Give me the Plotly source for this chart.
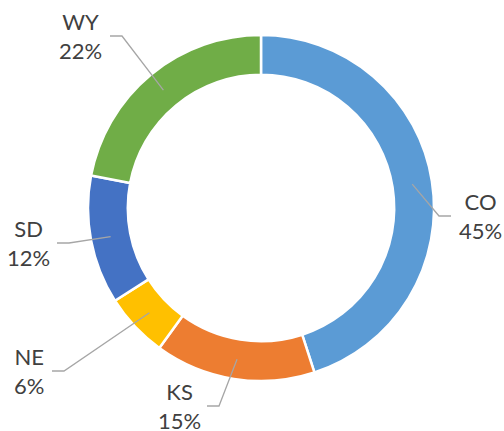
import math
import plotly.graph_objects as go

# ---- data ----
states = ["CO", "KS", "NE", "SD", "WY"]
shares = [45, 15, 6, 12, 22]
colors = ["#5B9BD5", "#ED7D31", "#FFC000", "#4472C4", "#70AD47"]

# ---- layout (pixels) ----
W, H = 504, 431
CX, CY, R = 261, 208, 173
HOLE = 0.77
# label text centre (x, y) and where the leader line ends (x)
label_layout = {
    "CO": (480, 216, 451),
    "KS": (179, 406, 207),
    "NE": (29, 371, 52),
    "SD": (28, 243, 57),
    "WY": (80, 36, 110),
}

def px(x):
    return x / W

def py(y):
    return 1 - y / H

fig = go.Figure(
    go.Pie(
        labels=states,
        values=shares,
        sort=False,
        direction="clockwise",
        rotation=0,
        hole=HOLE,
        textinfo="none",
        hoverinfo="label+percent",
        marker=dict(colors=colors, line=dict(color="white", width=2.5)),
        domain=dict(x=[px(CX - R), px(CX + R)], y=[py(CY + R), py(CY - R)]),
        showlegend=False,
    )
)

total = sum(shares)
r_mid = R * (1 + HOLE) / 2
cum = 0
shapes, annotations = [], []
for s, v in zip(states, shares):
    mid = (cum + v / 2) / total * 2 * math.pi
    cum += v
    ax = CX + r_mid * math.sin(mid)
    ay = CY - r_mid * math.cos(mid)
    tx, ty, ex = label_layout[s]
    elbow = ex + 12 if ex < ax else ex - 12
    shapes.append(dict(
        type="path", xref="paper", yref="paper",
        path=f"M {px(ex)},{py(ty)} L {px(elbow)},{py(ty)} L {px(ax)},{py(ay)}",
        line=dict(color="#A6A6A6", width=1.3),
    ))
    pct = round(v / total * 100)
    annotations.append(dict(
        x=px(tx), y=py(ty), xref="paper", yref="paper",
        text=f"{s}<br>{pct}%", showarrow=False,
        xanchor="center", yanchor="middle", align="center",
        font=dict(family="Lato", size=22, color="#404040"),
    ))

fig.update_layout(
    width=W, height=H,
    margin=dict(l=0, r=0, t=0, b=0),
    paper_bgcolor="white", plot_bgcolor="white",
    shapes=shapes, annotations=annotations,
)
fig.write_html(
    "out.html",
    config={"displayModeBar": False},
    post_script="document.body.style.margin='0';document.body.style.overflow='hidden';",
)
